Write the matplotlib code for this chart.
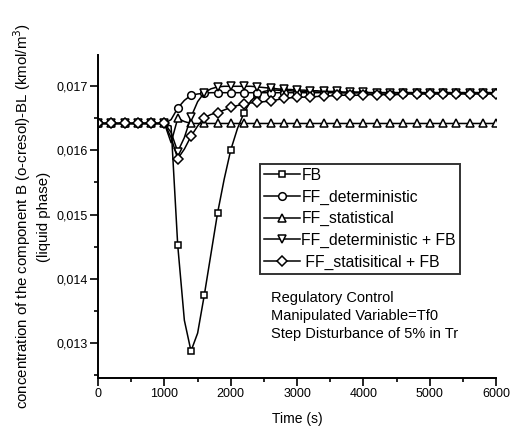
import numpy as np
import matplotlib
matplotlib.use("Agg")
import matplotlib.pyplot as plt
from matplotlib.ticker import MultipleLocator, FuncFormatter

plt.rcParams['font.family'] = ['Liberation Sans', 'DejaVu Sans']

# time grid (s), one point every 100 s
time = np.arange(0, 6001, 100)

# FB
fb = [0.01642, 0.01642, 0.01642, 0.01642, 0.01642, 0.01642, 0.01642, 0.01642, 0.01642, 0.01642,
      0.01642, 0.01638, 0.01452, 0.01335, 0.01287, 0.01315, 0.01374, 0.01438, 0.01502, 0.01555,
      0.01601, 0.01634, 0.01659, 0.01677, 0.01687, 0.01692, 0.01694, 0.01694, 0.01693, 0.01693,
      0.01692, 0.01692, 0.01691, 0.01691, 0.01691, 0.01691, 0.01690, 0.01690, 0.01690, 0.01690,
      0.01690, 0.01690, 0.01690, 0.01690, 0.01690, 0.01690, 0.01690, 0.01690, 0.01690, 0.01690,
      0.01690, 0.01690, 0.01690, 0.01690, 0.01690, 0.01690, 0.01690, 0.01690, 0.01690, 0.01690,
      0.01690]

# FF_deterministic
ff_det = [0.01642, 0.01642, 0.01642, 0.01642, 0.01642, 0.01642, 0.01642, 0.01642, 0.01642, 0.01642,
          0.01642, 0.01648, 0.01666, 0.01678, 0.01686, 0.01688, 0.01689, 0.01690, 0.01690, 0.01690,
          0.01690, 0.01690, 0.01690, 0.01690, 0.01690, 0.01690, 0.01690, 0.01690, 0.01690, 0.01690,
          0.01690, 0.01690, 0.01690, 0.01690, 0.01690, 0.01690, 0.01690, 0.01690, 0.01690, 0.01690,
          0.01690, 0.01690, 0.01690, 0.01690, 0.01690, 0.01690, 0.01690, 0.01690, 0.01690, 0.01690,
          0.01690, 0.01690, 0.01690, 0.01690, 0.01690, 0.01690, 0.01690, 0.01690, 0.01690, 0.01690,
          0.01690]

# FF_statistical
ff_stat = [0.01642, 0.01642, 0.01642, 0.01642, 0.01642, 0.01642, 0.01642, 0.01642, 0.01642, 0.01642,
           0.01642, 0.01612, 0.01650, 0.01645, 0.01642, 0.01642, 0.01642, 0.01642, 0.01642, 0.01642,
           0.01642, 0.01642, 0.01642, 0.01642, 0.01642, 0.01642, 0.01642, 0.01642, 0.01642, 0.01642,
           0.01642, 0.01642, 0.01642, 0.01642, 0.01642, 0.01642, 0.01642, 0.01642, 0.01642, 0.01642,
           0.01642, 0.01642, 0.01642, 0.01642, 0.01642, 0.01642, 0.01642, 0.01642, 0.01642, 0.01642,
           0.01642, 0.01642, 0.01642, 0.01642, 0.01642, 0.01642, 0.01642, 0.01642, 0.01642, 0.01642,
           0.01642]

# FF_deterministic + FB
ff_det_fb = [0.01642, 0.01642, 0.01642, 0.01642, 0.01642, 0.01642, 0.01642, 0.01642, 0.01642, 0.01642,
             0.01642, 0.01628, 0.01598, 0.01620, 0.01652, 0.01676, 0.01690, 0.01696, 0.01699, 0.01700,
             0.01700, 0.01700, 0.01700, 0.01700, 0.01699, 0.01698, 0.01697, 0.01696, 0.01695, 0.01695,
             0.01694, 0.01694, 0.01693, 0.01693, 0.01692, 0.01692, 0.01692, 0.01691, 0.01691, 0.01691,
             0.01691, 0.01690, 0.01690, 0.01690, 0.01690, 0.01690, 0.01690, 0.01690, 0.01690, 0.01690,
             0.01690, 0.01690, 0.01690, 0.01690, 0.01690, 0.01690, 0.01690, 0.01690, 0.01690, 0.01690,
             0.01690]

# FF_statisitical + FB
ff_stat_fb = [0.01642, 0.01642, 0.01642, 0.01642, 0.01642, 0.01642, 0.01642, 0.01642, 0.01642, 0.01642,
              0.01642, 0.01620, 0.01587, 0.01602, 0.01622, 0.01638, 0.01651, 0.01656, 0.01659, 0.01663,
              0.01667, 0.01670, 0.01672, 0.01674, 0.01675, 0.01676, 0.01677, 0.01679, 0.01681, 0.01682,
              0.01683, 0.01683, 0.01684, 0.01684, 0.01685, 0.01685, 0.01686, 0.01686, 0.01686, 0.01686,
              0.01687, 0.01687, 0.01687, 0.01687, 0.01687, 0.01687, 0.01688, 0.01688, 0.01688, 0.01688,
              0.01688, 0.01688, 0.01688, 0.01688, 0.01688, 0.01688, 0.01688, 0.01688, 0.01688, 0.01688,
              0.01688]

series = [
    (fb, 's', 4.5, 'FB'),
    (ff_det, 'o', 5.5, 'FF_deterministic'),
    (ff_stat, '^', 5.5, 'FF_statistical'),
    (ff_det_fb, 'v', 5.5, 'FF_deterministic + FB'),
    (ff_stat_fb, 'D', 4.8, ' FF_statisitical + FB'),
]

fig = plt.figure(figsize=(5.11, 4.32), dpi=100)
ax = fig.add_axes([0.192, 0.125, 0.779, 0.748])

for vals, mk, ms, lab in series:
    ax.plot(time, vals, color='black', lw=1.1, marker=mk, markevery=2, ms=ms,
            mfc='white', mec='black', mew=1.1, label=lab)

ax.set_xlim(0, 6000)
ax.set_ylim(0.01245, 0.01749)
ax.xaxis.set_major_locator(MultipleLocator(1000))
ax.xaxis.set_minor_locator(MultipleLocator(500))
ax.yaxis.set_major_locator(MultipleLocator(0.001))
ax.yaxis.set_minor_locator(MultipleLocator(0.0005))
ax.yaxis.set_major_formatter(FuncFormatter(lambda v, p: ('%.3f' % v).replace('.', ',')))

ax.spines['top'].set_visible(False)
ax.spines['right'].set_visible(False)
ax.spines['left'].set_linewidth(1.4)
ax.spines['bottom'].set_linewidth(1.4)
ax.tick_params(which='major', direction='out', length=5.5, width=1.2, labelsize=9, pad=2)
ax.tick_params(which='minor', direction='out', length=3, width=1.2)

ax.set_xlabel('Time (s)', fontsize=10, labelpad=8)
ax.set_ylabel('concentration of the component B (o-cresol)-BL (kmol/m$^3$)\n(liquid phase)',
              fontsize=10.8, labelpad=4, linespacing=1.35)

leg = ax.legend(loc='upper left', bbox_to_anchor=(0.406, 0.6625), fontsize=11.3,
                frameon=True, fancybox=False, edgecolor='black', handlelength=2.3,
                handletextpad=0.1, borderpad=0.25, labelspacing=0.42, borderaxespad=0)
leg.get_frame().set_linewidth(1.4)

ax.text(0.435, 0.192, 'Regulatory Control\nManipulated Variable=Tf0\nStep Disturbance of 5% in Tr',
        transform=ax.transAxes, fontsize=10.5, va='center', ha='left', linespacing=1.4)

fig.savefig('out.png', dpi=100)
